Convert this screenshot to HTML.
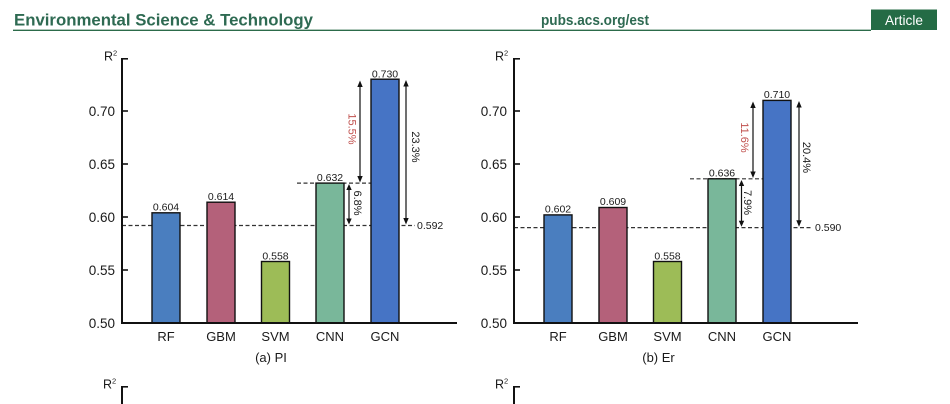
<!DOCTYPE html>
<html><head><meta charset="utf-8"><style>
html,body{margin:0;padding:0;background:#fff;}
svg{display:block;}
text{font-family:"Liberation Sans",Arial,sans-serif;fill:#1a1a1a;}
</style></head><body>
<svg width="950" height="404" viewBox="0 0 950 404" xmlns="http://www.w3.org/2000/svg">
<!-- Header -->
<text x="14" y="25.5" font-size="17" font-weight="bold" textLength="299" lengthAdjust="spacingAndGlyphs" style="fill:#2e6a52">Environmental Science &amp; Technology</text>
<text x="541" y="25" font-size="14.5" font-weight="bold" textLength="108" lengthAdjust="spacingAndGlyphs" style="fill:#2e6a52">pubs.acs.org/est</text>
<rect x="871" y="9.5" width="66" height="20.5" fill="#246b45"/>
<text x="904" y="25" font-size="14" text-anchor="middle" textLength="38" lengthAdjust="spacingAndGlyphs" style="fill:#fff">Article</text>
<line x1="13" y1="30.3" x2="871" y2="30.3" stroke="#2c6b4a" stroke-width="1.3"/>

<!-- LEFT CHART -->
<g id="left">
  <!-- baseline dashed -->
  <line x1="122" y1="225.5" x2="415" y2="225.5" stroke="#333" stroke-width="1.2" stroke-dasharray="4 2.5"/>
  <line x1="297" y1="183.1" x2="371" y2="183.1" stroke="#333" stroke-width="1.2" stroke-dasharray="4 2.5"/>
  <!-- bars -->
  <rect x="152" y="212.8" width="28" height="110.2" fill="#4a7ebf" stroke="#111" stroke-width="1.4"/>
  <rect x="207" y="202.2" width="28" height="120.8" fill="#b4617a" stroke="#111" stroke-width="1.4"/>
  <rect x="261.5" y="261.5" width="28" height="61.5" fill="#9dbc57" stroke="#111" stroke-width="1.4"/>
  <rect x="316" y="183.1" width="28" height="139.9" fill="#79b79a" stroke="#111" stroke-width="1.4"/>
  <rect x="371" y="79.2" width="28" height="243.8" fill="#4674c5" stroke="#111" stroke-width="1.4"/>
  <!-- value labels -->
  <g font-size="10.5" text-anchor="middle">
    <text x="166" y="210.5">0.604</text>
    <text x="221" y="200">0.614</text>
    <text x="275.5" y="259.3">0.558</text>
    <text x="330" y="180.8">0.632</text>
    <text x="385" y="77.5">0.730</text>
  </g>
  <text x="417" y="228.8" font-size="10.5">0.592</text>
  <!-- arrows -->
  <g stroke="#111" stroke-width="1.2" fill="#111">
    <line x1="360" y1="86" x2="360" y2="177"/>
    <polygon points="360,80.5 357.3,87 362.7,87" stroke="none"/>
    <polygon points="360,182.5 357.3,176 362.7,176" stroke="none"/>
    <line x1="349" y1="189" x2="349" y2="219"/>
    <polygon points="349,184 346.3,190 351.7,190" stroke="none"/>
    <polygon points="349,224.5 346.3,218.5 351.7,218.5" stroke="none"/>
    <line x1="406" y1="85" x2="406" y2="219"/>
    <polygon points="406,80 403.3,86.5 408.7,86.5" stroke="none"/>
    <polygon points="406,224.5 403.3,218 408.7,218" stroke="none"/>
  </g>
  <text x="351.5" y="129" font-size="11" text-anchor="middle" dominant-baseline="central" transform="rotate(90 351.5 129)" style="fill:#c0504d">15.5%</text>
  <text x="357" y="203" font-size="11" text-anchor="middle" dominant-baseline="central" transform="rotate(90 357 203)">6.8%</text>
  <text x="415" y="147" font-size="11" text-anchor="middle" dominant-baseline="central" transform="rotate(90 415 147)">23.3%</text>
  <!-- axes -->
  <line x1="122" y1="58" x2="122" y2="324" stroke="#111" stroke-width="2"/>
  <line x1="121" y1="323" x2="457" y2="323" stroke="#111" stroke-width="2"/>
  <g stroke="#111" stroke-width="1.6">
    <line x1="122" y1="58.8" x2="128" y2="58.8"/>
    <line x1="122" y1="111" x2="128" y2="111"/>
    <line x1="122" y1="164" x2="128" y2="164"/>
    <line x1="122" y1="217" x2="128" y2="217"/>
    <line x1="122" y1="270" x2="128" y2="270"/>
  </g>
  <g font-size="13.5" text-anchor="end">
    <text x="115" y="116">0.70</text>
    <text x="115" y="169">0.65</text>
    <text x="115" y="222">0.60</text>
    <text x="115" y="275">0.55</text>
    <text x="115" y="328">0.50</text>
  </g>
  <text x="104" y="60.5" font-size="12.5">R<tspan font-size="7.5" dy="-5">2</tspan></text>
  <g font-size="13" text-anchor="middle">
    <text x="166" y="341">RF</text>
    <text x="221" y="341">GBM</text>
    <text x="275.5" y="341">SVM</text>
    <text x="330" y="341">CNN</text>
    <text x="385" y="341">GCN</text>
  </g>
  <text x="271" y="362" font-size="13" text-anchor="middle">(a) PI</text>
  <!-- lower partial chart -->
  <line x1="122" y1="386" x2="122" y2="404" stroke="#111" stroke-width="2"/>
  <line x1="122" y1="386.8" x2="128" y2="386.8" stroke="#111" stroke-width="1.6"/>
  <text x="103" y="388.5" font-size="12.5">R<tspan font-size="7.5" dy="-5">2</tspan></text>
</g>

<!-- RIGHT CHART -->
<g transform="translate(392,0)">
  <line x1="122" y1="227.6" x2="420" y2="227.6" stroke="#333" stroke-width="1.2" stroke-dasharray="4 2.5"/>
  <line x1="298" y1="178.8" x2="371" y2="178.8" stroke="#333" stroke-width="1.2" stroke-dasharray="4 2.5"/>
  <rect x="152" y="214.9" width="28" height="108.1" fill="#4a7ebf" stroke="#111" stroke-width="1.4"/>
  <rect x="207" y="207.5" width="28" height="115.5" fill="#b4617a" stroke="#111" stroke-width="1.4"/>
  <rect x="261.5" y="261.5" width="28" height="61.5" fill="#9dbc57" stroke="#111" stroke-width="1.4"/>
  <rect x="316" y="178.8" width="28" height="144.2" fill="#79b79a" stroke="#111" stroke-width="1.4"/>
  <rect x="371" y="100.4" width="28" height="222.6" fill="#4674c5" stroke="#111" stroke-width="1.4"/>
  <g font-size="10.5" text-anchor="middle">
    <text x="166" y="212.5">0.602</text>
    <text x="221" y="205.2">0.609</text>
    <text x="275.5" y="259.3">0.558</text>
    <text x="330" y="176.5">0.636</text>
    <text x="385" y="98">0.710</text>
  </g>
  <text x="423" y="230.8" font-size="10.5">0.590</text>
  <g stroke="#111" stroke-width="1.2" fill="#111">
    <line x1="361" y1="107" x2="361" y2="173"/>
    <polygon points="361,101.5 358.3,108 363.7,108" stroke="none"/>
    <polygon points="361,178 358.3,171.5 363.7,171.5" stroke="none"/>
    <line x1="349.5" y1="185" x2="349.5" y2="221"/>
    <polygon points="349.5,180 346.8,186 352.2,186" stroke="none"/>
    <polygon points="349.5,226.7 346.8,220.7 352.2,220.7" stroke="none"/>
    <line x1="407" y1="106" x2="407" y2="221"/>
    <polygon points="407,101 404.3,107.5 409.7,107.5" stroke="none"/>
    <polygon points="407,226.7 404.3,220.2 409.7,220.2" stroke="none"/>
  </g>
  <text x="352" y="137.5" font-size="11" text-anchor="middle" dominant-baseline="central" transform="rotate(90 352 137.5)" style="fill:#c0504d">11.6%</text>
  <text x="355" y="202.5" font-size="11" text-anchor="middle" dominant-baseline="central" transform="rotate(90 355 202.5)">7.9%</text>
  <text x="414" y="157.5" font-size="11" text-anchor="middle" dominant-baseline="central" transform="rotate(90 414 157.5)">20.4%</text>
  <line x1="122" y1="58" x2="122" y2="324" stroke="#111" stroke-width="2"/>
  <line x1="121" y1="323" x2="466" y2="323" stroke="#111" stroke-width="2"/>
  <g stroke="#111" stroke-width="1.6">
    <line x1="122" y1="58.8" x2="128" y2="58.8"/>
    <line x1="122" y1="111" x2="128" y2="111"/>
    <line x1="122" y1="164" x2="128" y2="164"/>
    <line x1="122" y1="217" x2="128" y2="217"/>
    <line x1="122" y1="270" x2="128" y2="270"/>
  </g>
  <g font-size="13.5" text-anchor="end">
    <text x="115" y="116">0.70</text>
    <text x="115" y="169">0.65</text>
    <text x="115" y="222">0.60</text>
    <text x="115" y="275">0.55</text>
    <text x="115" y="328">0.50</text>
  </g>
  <text x="103" y="60.5" font-size="12.5">R<tspan font-size="7.5" dy="-5">2</tspan></text>
  <g font-size="13" text-anchor="middle">
    <text x="166" y="341">RF</text>
    <text x="221" y="341">GBM</text>
    <text x="275.5" y="341">SVM</text>
    <text x="330" y="341">CNN</text>
    <text x="385" y="341">GCN</text>
  </g>
  <text x="266.5" y="362" font-size="13" text-anchor="middle">(b) Er</text>
  <line x1="122" y1="386" x2="122" y2="404" stroke="#111" stroke-width="2"/>
  <line x1="122" y1="386.8" x2="128" y2="386.8" stroke="#111" stroke-width="1.6"/>
  <text x="103" y="388.5" font-size="12.5">R<tspan font-size="7.5" dy="-5">2</tspan></text>
</g>
</svg>
</body></html>
